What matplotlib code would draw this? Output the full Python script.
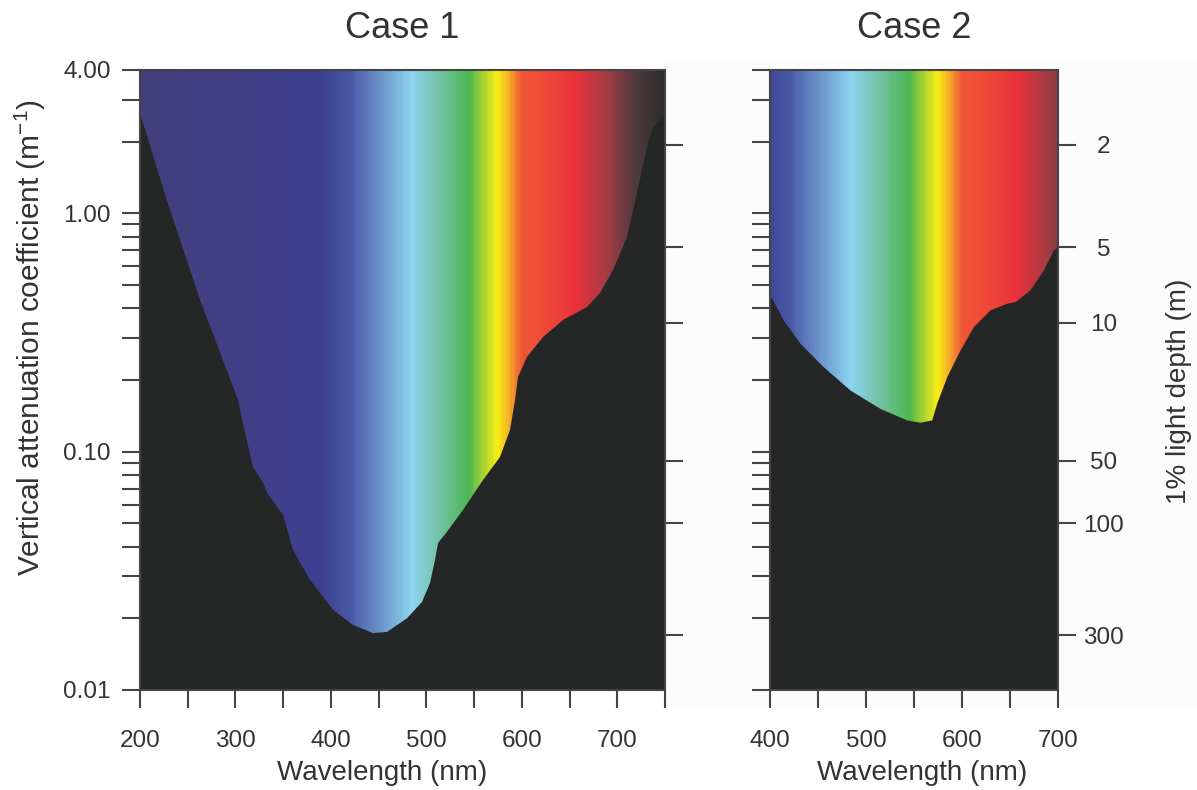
import numpy as np
import matplotlib
matplotlib.use('Agg')
import matplotlib.pyplot as plt
from matplotlib.colors import LinearSegmentedColormap, Normalize
from matplotlib.ticker import LogLocator, NullFormatter, NullLocator, MultipleLocator
from matplotlib.patches import Rectangle

plt.rcParams['font.family'] = ['Liberation Sans', 'DejaVu Sans']
plt.rcParams['mathtext.default'] = 'regular'

# Case 1: Kd (1/m) read along the edge of the dark area
wl1 = [200, 228, 263, 302.7, 310, 318.4, 328.9, 333, 349.8, 351.9, 360.3, 378.1,
       402.2, 423.1, 444.1, 458.8, 479.7, 495.4, 503.8, 509, 512.2, 521.6, 538.4,
       559.3, 577.1, 587.6, 592.9, 596, 605.4, 622.2, 643.1, 668.3, 681.9, 695.5,
       710.2, 720.7, 731.1, 737.4, 747.9, 750]
kd1 = [2.64, 1.14, 0.433, 0.165, 0.120, 0.0863, 0.0740, 0.0672, 0.0543, 0.0507,
       0.0387, 0.0290, 0.0217, 0.01875, 0.01734, 0.01753, 0.0200, 0.0234, 0.0281,
       0.0351, 0.0414, 0.0461, 0.0570, 0.0761, 0.0950, 0.1234, 0.1648, 0.206,
       0.250, 0.303, 0.357, 0.405, 0.464, 0.579, 0.796, 1.22, 1.90, 2.31, 2.52, 2.54]

# Case 2
wl2 = [400, 401.8, 413.9, 431.3, 455.5, 483.3, 514.6, 542.4, 556.3, 568.4, 573.6,
       584.1, 597.9, 611.8, 629.2, 646.6, 655.2, 670.8, 684.7, 695.1, 700]
kd2 = [0.447, 0.4406, 0.357, 0.285, 0.2275, 0.1816, 0.152, 0.136, 0.133, 0.136,
       0.1596, 0.2065, 0.267, 0.335, 0.394, 0.420, 0.4265, 0.478, 0.579, 0.703, 0.731]

# 1% light depth scale (m) and where its ticks sit on the Kd axis
depth_labels = ['2', '5', '10', '50', '100', '300']
depth_kd = [1.938, 0.723, 0.347, 0.0915, 0.0502, 0.0170]

kd_ticks = [0.01, 0.1, 1, 4]
kd_labels = ['0.01', '0.10', '1.00', '4.00']

# spectrum colours along wavelength
spec_stops = [(200, '#433f7d'), (300, '#413f86'), (390, '#3c3f90'), (420, '#4858a6'),
              (450, '#6a90c8'), (485, '#8cd5f0'), (505, '#7cc6bc'), (545, '#4cb752'),
              (560, '#a8d232'), (575, '#f9ee14'), (588, '#f6a82a'), (600, '#ef5536'),
              (625, '#ef4a38'), (658, '#e8303a'), (690, '#a43c44'), (720, '#4e3a3c'),
              (750, '#2e2b2b')]
cmap = LinearSegmentedColormap.from_list(
    'spec', [((w - 200) / 550, c) for w, c in spec_stops])
norm = Normalize(200, 750)

dark = '#252726'
txt = '#333333'
axc = '#444444'

fig = plt.figure(figsize=(11.97, 7.90), dpi=100)
fig.patches.append(Rectangle((665 / 1197, 82 / 790), 532 / 1197, 646 / 790,
                             transform=fig.transFigure, color='#fcfcfc', zorder=-10))

ax1 = fig.add_axes([140 / 1197, 100 / 790, 525 / 1197, 620 / 790])
ax2 = fig.add_axes([770 / 1197, 100 / 790, 288 / 1197, 620 / 790])


def panel(ax, wl, kd, xmin, xmax, show_kd, show_depth):
    ax.set_yscale('log')
    xs = np.linspace(xmin, xmax, 601)
    ax.pcolormesh(xs, [0.01, 4], ((xs[:-1] + xs[1:]) / 2)[None, :],
                  cmap=cmap, norm=norm, shading='flat', zorder=1)
    ax.fill_between(wl, 0.001, kd, color=dark, lw=0, zorder=2)
    ax.set_xlim(xmin, xmax)
    ax.set_ylim(0.01, 4)
    ax.set_yticks(kd_ticks)
    ax.set_yticklabels(kd_labels if show_kd else [])
    ax.yaxis.set_minor_locator(LogLocator(base=10, subs=np.arange(2, 10)))
    ax.yaxis.set_minor_formatter(NullFormatter())
    ax.xaxis.set_major_locator(MultipleLocator(100))
    ax.xaxis.set_minor_locator(MultipleLocator(50))
    ax.tick_params(which='both', direction='out', length=13, width=1.5, color=axc,
                   labelsize=17.5, labelcolor=txt)
    ax.tick_params(axis='y', which='both', pad=8, labelleft=show_kd)
    ax.tick_params(axis='x', pad=16)
    for s in ax.spines.values():
        s.set_color(axc)
        s.set_linewidth(1.5)
        s.set_zorder(5)

    axr = ax.twinx()
    axr.set_yscale('log')
    axr.set_ylim(0.01, 4)
    axr.set_yticks(depth_kd)
    axr.set_yticklabels(depth_labels if show_depth else [])
    axr.yaxis.set_minor_locator(NullLocator())
    axr.tick_params(direction='out', length=13, width=1.5, color=axc,
                    labelsize=17.5, labelcolor=txt, pad=20)
    for lab in axr.get_yticklabels():
        lab.set_ha('center')
    for s in axr.spines.values():
        s.set_visible(False)


panel(ax1, wl1, kd1, 200, 750, True, False)
panel(ax2, wl2, kd2, 400, 700, False, True)

fig.text(402 / 1197, 1 - 28 / 790, 'Case 1', fontsize=26, color=txt, ha='center', va='center')
fig.text(914 / 1197, 1 - 28 / 790, 'Case 2', fontsize=26, color=txt, ha='center', va='center')
fig.text(382 / 1197, 1 - 773 / 790, 'Wavelength (nm)', fontsize=20, color=txt,
         ha='center', va='center')
fig.text(922 / 1197, 1 - 773 / 790, 'Wavelength (nm)', fontsize=20, color=txt,
         ha='center', va='center')
fig.text(30 / 1197, 1 - 338 / 790, 'Vertical attenuation coefficient (m$^{-1}$)',
         fontsize=21.5, color=txt, rotation=90, ha='center', va='center')
fig.text(1179 / 1197, 1 - 391 / 790, '1% light depth (m)', fontsize=20, color=txt,
         rotation=90, ha='center', va='center')

plt.savefig('out.png', dpi=100)
